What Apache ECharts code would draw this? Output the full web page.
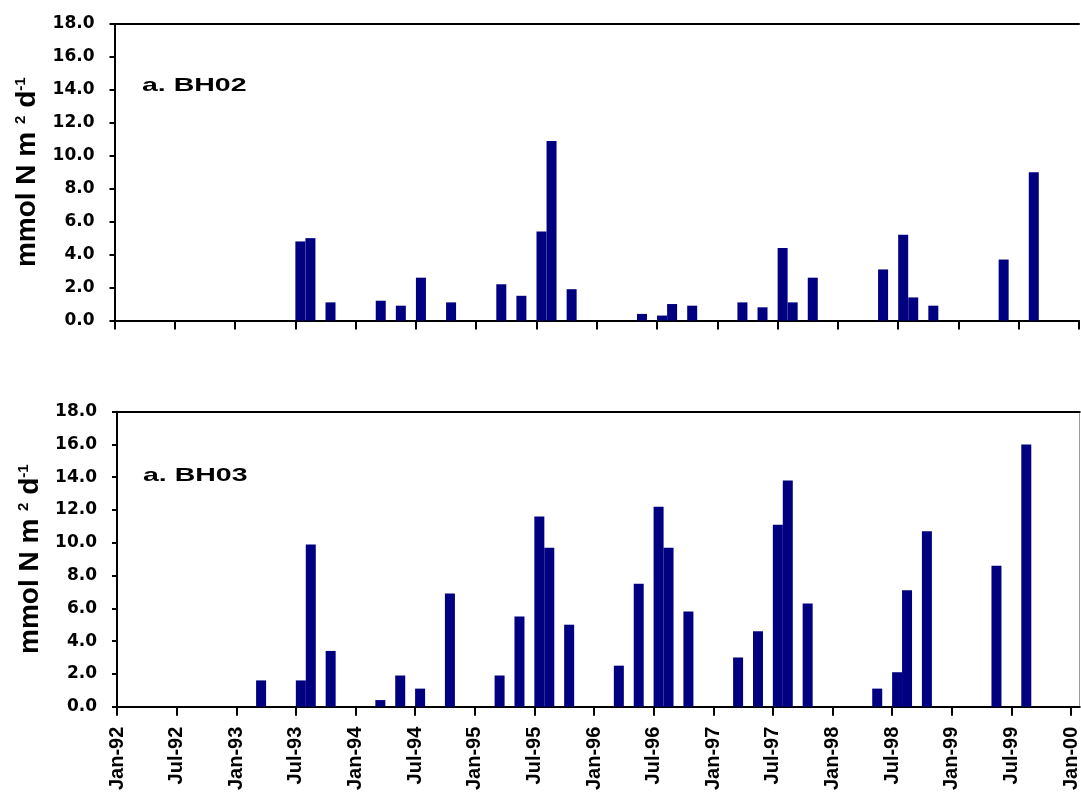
<!DOCTYPE html>
<html>
<head>
<meta charset="utf-8">
<script src="https://cdn.jsdelivr.net/npm/echarts@6/dist/echarts.min.js"></script>
<style>
html,body{margin:0;padding:0;background:#ffffff;}
#chart{width:1081px;height:793px;}
</style>
</head>
<body>
<div id="chart"></div>
<script>
// ---- data ----
const sampleMonths = ['Mar-93','Jul-93','Aug-93','Oct-93','Mar-94','May-94','Jul-94','Oct-94',
  'Mar-95','May-95','Jul-95','Aug-95','Oct-95','Mar-96','May-96','Jul-96','Aug-96','Oct-96',
  'Mar-97','May-97','Jul-97','Aug-97','Oct-97','May-98','Jul-98','Aug-98','Oct-98','May-99','Aug-99'];
const bh02Values = [0, 4.8, 5.0, 1.1, 1.2, 0.9, 2.6, 1.1,
  2.2, 1.5, 5.4, 10.9, 1.9, 0, 0.4, 0.3, 1.0, 0.9,
  1.1, 0.8, 4.4, 1.1, 2.6, 3.1, 5.2, 1.4, 0.9, 3.7, 9.0];
const bh03Values = [1.6, 1.6, 9.9, 3.4, 0.4, 1.9, 1.1, 6.9,
  1.9, 5.5, 11.6, 9.7, 5.0, 2.5, 7.5, 12.2, 9.7, 5.8,
  3.0, 4.6, 11.1, 13.8, 6.3, 1.1, 2.1, 7.1, 10.7, 8.6, 16.0];
const xTickLabels = ['Jan-92','Jul-92','Jan-93','Jul-93','Jan-94','Jul-94','Jan-95','Jul-95',
  'Jan-96','Jul-96','Jan-97','Jul-97','Jan-98','Jul-98','Jan-99','Jul-99','Jan-00'];
const panelTitles = ['a. BH02', 'a. BH03'];
const yAxisTitle = '{b|mmol N m }{s|2}{b| d}{s|-1}';

// ---- helpers ----
const MON = ['Jan','Feb','Mar','Apr','May','Jun','Jul','Aug','Sep','Oct','Nov','Dec'];
function monthIndex(label) {
  const parts = label.split('-');
  let yr = parseInt(parts[1], 10);
  if (yr < 50) yr += 100;
  return (yr - 92) * 12 + MON.indexOf(parts[0]);
}
const tickValues = xTickLabels.map(function (_, i) { return i * 6; });
function seriesData(values) {
  return sampleMonths.map(function (m, i) { return [monthIndex(m) + 0.5, values[i]]; });
}

const AX = '#000000';
const BAR = '#000080';

function mainXAxis(gridIndex, max, showLabels) {
  return {
    type: 'value', gridIndex: gridIndex, min: 0, max: max, interval: 6, position: 'bottom',
    axisLine: { show: true, onZero: false, lineStyle: { color: AX, width: 2 } },
    axisTick: { show: true, inside: false, length: 9, customValues: tickValues,
      lineStyle: { color: AX, width: 2 } },
    axisLabel: { show: showLabels, rotate: 90, margin: 20, customValues: tickValues,
      formatter: function (v) { const k = Math.round(v / 6); return xTickLabels[k] || ''; },
      fontFamily: 'Liberation Sans', fontWeight: 'bold', fontSize: 20, color: AX },
    splitLine: { show: false }
  };
}
function frameXAxis(gridIndex, max) {
  return {
    type: 'value', gridIndex: gridIndex, min: 0, max: max, position: 'top',
    axisLine: { show: true, onZero: false, lineStyle: { color: AX, width: 2 } },
    axisTick: { show: false }, axisLabel: { show: false }, splitLine: { show: false }
  };
}
function mainYAxis(gridIndex) {
  return {
    type: 'value', gridIndex: gridIndex, min: 0, max: 18, interval: 2, position: 'left',
    axisLine: { show: true, onZero: false, lineStyle: { color: AX, width: 2 } },
    axisTick: { show: true, inside: false, length: 5, lineStyle: { color: AX, width: 2 } },
    axisLabel: { margin: 20, formatter: function (v) { return v.toFixed(1); },
      fontFamily: 'DejaVu Sans', fontWeight: 'bold', fontSize: 17, color: AX },
    splitLine: { show: false },
    name: yAxisTitle, nameLocation: 'middle', nameRotate: 90, nameGap: 68,
    nameTextStyle: {
      color: AX, fontFamily: 'Liberation Sans', fontWeight: 'bold', fontSize: 28,
      rich: {
        b: { color: AX, fontFamily: 'Liberation Sans', fontWeight: 'bold', fontSize: 28 },
        s: { color: AX, fontFamily: 'Liberation Sans', fontWeight: 'bold', fontSize: 15, verticalAlign: 'top' }
      }
    }
  };
}

const chart = echarts.init(document.getElementById('chart'), null, { renderer: 'canvas' });
chart.setOption({
  animation: false,
  backgroundColor: '#ffffff',
  grid: [
    { left: 114.5, top: 24, width: 964.5, height: 296.5, containLabel: false },
    { left: 117, top: 411.7, width: 963.5, height: 295, containLabel: false }
  ],
  xAxis: [
    mainXAxis(0, 96, false),
    frameXAxis(0, 96),
    mainXAxis(1, 96.88, true),
    frameXAxis(1, 96.88)
  ],
  yAxis: [
    mainYAxis(0),
    mainYAxis(1),
    { type: 'value', gridIndex: 1, min: 0, max: 18, position: 'right',
      axisLine: { show: true, onZero: false, lineStyle: { color: '#9a9a9a', width: 1 } },
      axisTick: { show: false }, axisLabel: { show: false }, splitLine: { show: false } }
  ],
  graphic: [
    { type: 'text', x: 142, y: 86, scaleX: 1.5, z: 10,
      style: { text: panelTitles[0], font: 'bold 19px "Liberation Sans"', fill: AX,
        align: 'left', verticalAlign: 'middle', textAlign: 'left', textVerticalAlign: 'middle' } },
    { type: 'text', x: 143, y: 475.5, scaleX: 1.5, z: 10,
      style: { text: panelTitles[1], font: 'bold 19px "Liberation Sans"', fill: AX,
        align: 'left', verticalAlign: 'middle', textAlign: 'left', textVerticalAlign: 'middle' } }
  ],
  series: [
    { name: 'BH02', type: 'bar', xAxisIndex: 0, yAxisIndex: 0, barWidth: 10,
      itemStyle: { color: BAR }, data: seriesData(bh02Values) },
    { name: 'BH03', type: 'bar', xAxisIndex: 2, yAxisIndex: 1, barWidth: 10,
      itemStyle: { color: BAR }, data: seriesData(bh03Values) }
  ]
});
</script>
</body>
</html>
